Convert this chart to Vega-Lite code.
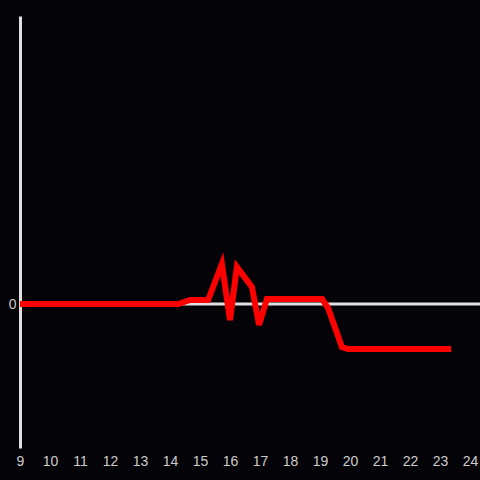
{
  "$schema": "https://vega.github.io/schema/vega-lite/v6.json",
  "autosize": "none",
  "padding": {"left": 20, "top": 16, "right": 0, "bottom": 32},
  "width": 460,
  "height": 432,
  "background": "#040307",
  "config": {"view": {"stroke": null}, "axis": {"grid": false}},
  "layer": [
    {
      "data": {"values": [{"y": 0}]},
      "mark": {"type": "rule", "color": "#e0e0e0", "strokeWidth": 3},
      "encoding": {"y": {"field": "y", "type": "quantitative", "scale": {"domain": [-144, 288], "nice": false, "zero": false},
          "axis": {"values": [0], "domain": true, "domainColor": "#e0e0e0", "domainWidth": 3, "ticks": false, "labelColor": "#cccccc", "labelFontSize": 14, "labelPadding": 4, "title": null, "labelFont": "Liberation Sans"}}}
    },
    {
      "data": {"values": [
        {"t": 9, "v": 0},
        {"t": 14.27, "v": 0},
        {"t": 14.67, "v": 4},
        {"t": 15.27, "v": 4},
        {"t": 15.73, "v": 40},
        {"t": 16.0, "v": -16},
        {"t": 16.23, "v": 37},
        {"t": 16.73, "v": 17},
        {"t": 16.97, "v": -21},
        {"t": 17.23, "v": 5},
        {"t": 19.07, "v": 5},
        {"t": 19.27, "v": -4},
        {"t": 19.73, "v": -43},
        {"t": 19.93, "v": -45},
        {"t": 23.37, "v": -45}
      ]},
      "mark": {"type": "line", "color": "#ff0000", "strokeWidth": 6, "strokeJoin": "miter"},
      "encoding": {
        "x": {"field": "t", "type": "quantitative", "scale": {"domain": [9, 24.333], "nice": false, "zero": false},
          "axis": {"values": [9,10,11,12,13,14,15,16,17,18,19,20,21,22,23,24], "domain": false, "ticks": false, "labelColor": "#cccccc", "labelFontSize": 14, "labelPadding": 6, "title": null, "labelFlush": false, "labelFont": "Liberation Sans"}},
        "y": {"field": "v", "type": "quantitative"}
      }
    }
  ]
}
